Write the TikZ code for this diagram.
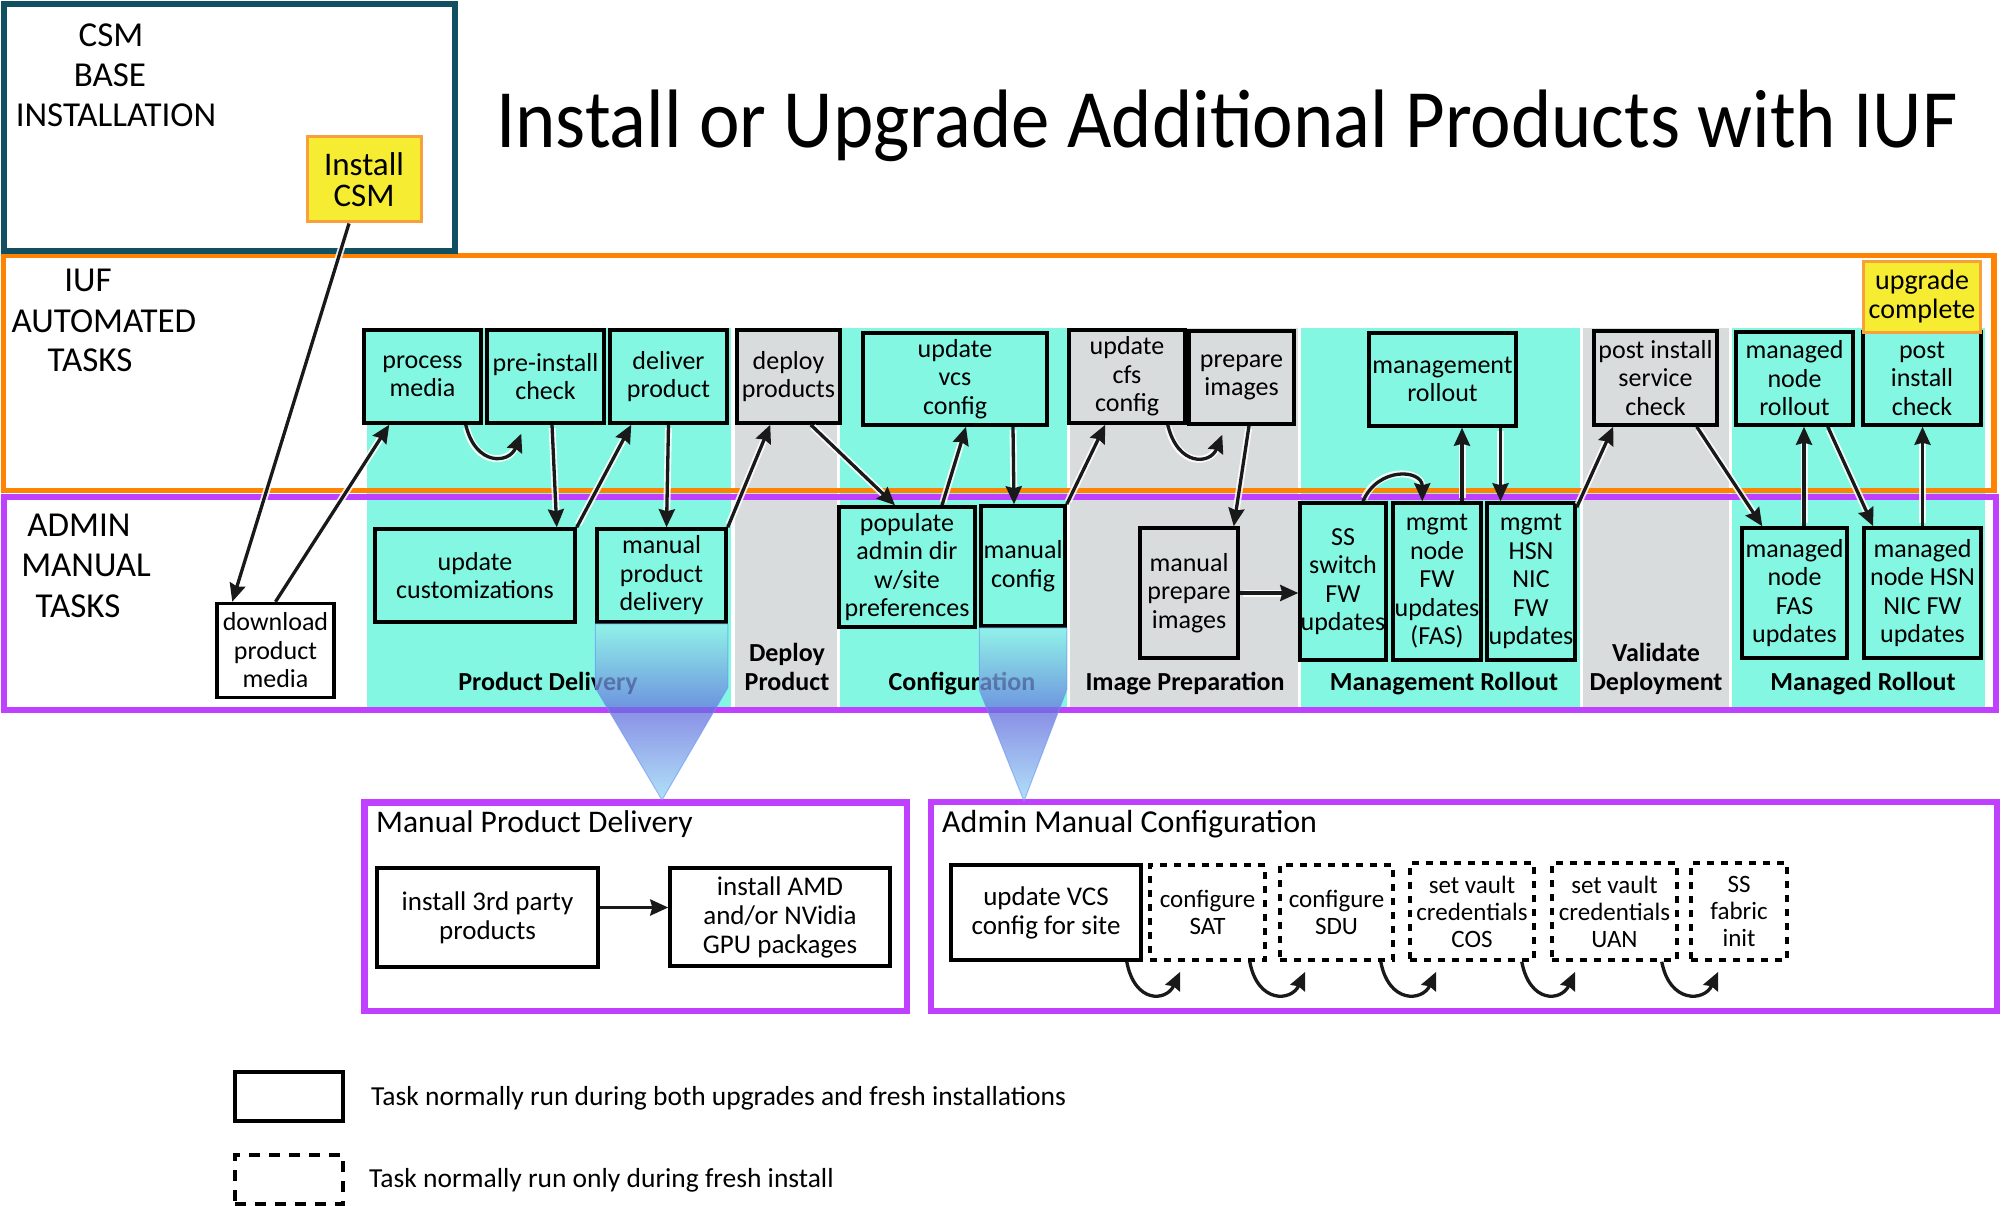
\documentclass[tikz,border=0pt]{standalone}
\usepackage{fontspec}
\setmainfont{Carlito}
\usetikzlibrary{arrows.meta,calc}
\definecolor{cy}{RGB}{131,247,225}
\definecolor{gr}{RGB}{216,220,220}
\definecolor{org}{RGB}{255,131,0}
\definecolor{pur}{RGB}{192,64,255}
\definecolor{tealdk}{RGB}{17,80,96}
\definecolor{yel}{RGB}{246,236,50}
\definecolor{yelb}{RGB}{247,160,60}
\definecolor{fnA}{RGB}{150,240,236}
\definecolor{fnB}{RGB}{100,110,222}
\definecolor{fnC}{RGB}{150,215,245}
\tikzset{
  task/.style={draw=black, line width=3.5pt, fill=cy, inner sep=0pt, align=center, font=\fontsize{26}{28.5}\selectfont},
  gtask/.style={task, fill=gr},
  wtask/.style={task, fill=white},
  ytask/.style={task, fill=yel, draw=yelb, line width=3pt},
  btask/.style={wtask, font=\fontsize{27}{29}\selectfont},
  dtask/.style={wtask, dash pattern=on 7pt off 7pt, font=\fontsize{25}{27}\selectfont},
  framebox/.style={draw=#1, line width=6pt, inner sep=0pt},
  hdr/.style={font=\fontsize{35}{37}\selectfont, inner sep=0pt},
  collab/.style={font=\bfseries\fontsize{26}{28}\selectfont, inner sep=0pt, anchor=base},
  ttl/.style={font=\fontsize{31.5}{33}\selectfont, inner sep=0pt, anchor=base west},
  legtxt/.style={font=\fontsize{27.5}{29}\selectfont, inner sep=0pt, anchor=base west},
  arr/.style={draw=black!90, line width=3.3pt, -{Stealth[length=18pt,width=16pt,inset=2pt]},
    preaction={draw=white, line width=7pt, arrows=-, shorten >=14pt, shorten <=3pt, draw opacity=0.85}},
  funnel/.style={draw=fnC!70!blue, line width=1pt, top color=fnA, bottom color=fnC, middle color=fnB, shading=axis, fill opacity=0.75, draw opacity=0.6}
}
\begin{document}
\begin{tikzpicture}[x=1pt,y=-1pt]
\useasboundingbox (0,0) rectangle (2004,1206);
% column backgrounds
\fill[cy] (367,328) rectangle (731,707);
\fill[gr] (735,328) rectangle (837,707);
\fill[cy] (840,328) rectangle (1067,707);
\fill[gr] (1070,328) rectangle (1298,707);
\fill[cy] (1301,328) rectangle (1580,707);
\fill[gr] (1583,328) rectangle (1729,707);
\fill[cy] (1732,328) rectangle (1985,707);
% frames
\node[framebox=org, line width=5.5pt, minimum width=1990.5pt, minimum height=235pt] (iufbox) at (998.75,373) {};
\node[framebox=pur, minimum width=1992.5pt, minimum height=213pt] (adminbox) at (999.75,603) {};
\node[framebox=tealdk, minimum width=451pt, minimum height=247pt] (csmbox) at (229.5,127.5) {};
% headers
\node[hdr] (h1) at (111,35) {CSM};
\node[hdr] (h2) at (110,75) {BASE};
\node[hdr] (h3) at (116,115) {INSTALLATION};
\node[hdr] (h4) at (88,280) {IUF};
\node[hdr] (h5) at (104,321) {AUTOMATED};
\node[hdr] (h6) at (90,360) {TASKS};
\node[hdr] (h7) at (79,525) {ADMIN};
\node[hdr] (h8) at (86,565) {MANUAL};
\node[hdr] (h9) at (78,606) {TASKS};
% title
\node[inner sep=0pt, anchor=base west] (title) at (496,148) {\scalebox{1}[1.08]{\fontsize{76.8}{80}\selectfont Install or Upgrade Additional Products with IUF}};
% column labels
\node[collab] (c1) at (548,690) {Product Delivery};
\node[collab] (c2a) at (787,661) {Deploy};
\node[collab] (c2b) at (787,690) {Product};
\node[collab] (c3) at (962,690) {Configuration};
\node[collab] (c4) at (1185,690) {Image Preparation};
\node[collab] (c5) at (1444,690) {Management Rollout};
\node[collab] (c6a) at (1656,661) {Validate};
\node[collab] (c6b) at (1656,690) {Deployment};
\node[collab] (c7) at (1863,690) {Managed Rollout};
% top row tasks
\node[ytask, minimum width=114pt, minimum height=85pt, font=\fontsize{33}{31}\selectfont] (icsm) at (364,179.5) {Install\\CSM};
\node[task, minimum width=117pt, minimum height=93pt] (pm) at (422.5,376.5) {process\\media};
\node[task, minimum width=117pt, minimum height=93pt] (pic) at (545.5,376.5) {pre-install\\check};
\node[task, minimum width=117pt, minimum height=93pt] (dp) at (668.5,376.5) {deliver\\product};
\node[gtask, minimum width=103pt, minimum height=93pt] (dep) at (788.5,376.5) {deploy\\products};
\node[task, minimum width=184pt, minimum height=92pt] (vcs) at (955,379) {update\\vcs\\config};
\node[gtask, minimum width=116pt, minimum height=93pt] (cfs) at (1127,376.5) {update\\cfs\\config};
\node[gtask, minimum width=105pt, minimum height=93pt] (pi) at (1241.5,377.5) {prepare\\images};
\node[task, minimum width=147pt, minimum height=93pt] (mr) at (1442.5,379.5) {management\\rollout};
\node[gtask, minimum width=123pt, minimum height=94pt] (pisc) at (1655.5,378) {post install\\service\\check};
\node[task, minimum width=117pt, minimum height=93pt] (mnr) at (1794.5,378.5) {managed\\node\\rollout};
\node[task, minimum width=118pt, minimum height=93pt] (pic2) at (1922,378.5) {post\\install\\check};
\node[ytask, minimum width=117pt, minimum height=70pt, font=\fontsize{28}{29}\selectfont] (uc) at (1922,297) {upgrade\\complete};
% bottom row tasks
\node[wtask, minimum width=117pt, minimum height=94pt] (dpm) at (275.5,650.5) {download\\product\\media};
\node[task, minimum width=200pt, minimum height=93pt] (upc) at (475,575.5) {update\\customizations};
\node[task, minimum width=129pt, minimum height=93pt] (mpd) at (661.5,575.5) {manual\\product\\delivery};
\node[task, minimum width=136pt, minimum height=120pt] (pad) at (907,567) {populate\\admin dir\\w/site\\preferences};
\node[task, minimum width=84pt, minimum height=120pt] (mc) at (1023,566) {manual\\config};
\node[gtask, minimum width=98pt, minimum height=130pt] (mpi) at (1189,593) {manual\\prepare\\images};
\node[task, minimum width=86pt, minimum height=157pt] (ssfw) at (1343,581.5) {SS\\switch\\FW\\updates};
\node[task, minimum width=88pt, minimum height=157pt] (mnfw) at (1437,581.5) {mgmt\\node\\FW\\updates\\(FAS)};
\node[task, minimum width=88pt, minimum height=157pt] (hsn) at (1531,581.5) {mgmt\\HSN\\NIC\\FW\\updates};
\node[task, minimum width=105pt, minimum height=130pt] (mnfas) at (1794.5,593) {managed\\node\\FAS\\updates};
\node[task, minimum width=117pt, minimum height=130pt] (mnhsn) at (1922.5,593) {managed\\node HSN\\NIC FW\\updates};
% lower frames
\node[framebox=pur, line width=6.5pt, minimum width=542.5pt, minimum height=208.5pt] (mpdbox) at (635.75,906.75) {};
\node[framebox=pur, line width=6.5pt, minimum width=1066pt, minimum height=209pt] (amcbox) at (1464,906.5) {};
\node[ttl] (t1) at (376,832) {Manual Product Delivery};
\node[ttl, font=\fontsize{32}{34}\selectfont] (t2) at (942,832) {Admin Manual Configuration};
% funnels
\path[funnel] (mpd.south west) -- ++(0,64) -- (662,800) -- ($(mpd.south east)+(0,64)$) -- (mpd.south east) -- cycle;
\path[funnel] (mc.south west) -- ++(0,62) -- (1024,801) -- ($(mc.south east)+(0,62)$) -- (mc.south east) -- cycle;
% arrows top
\draw[arr] ([xshift=-15pt]icsm.south) -- ([xshift=17pt]dpm.north west);
\draw[arr] (dpm.north) -- ([xshift=27pt]pm.south west);
\draw[arr] ([xshift=-17pt]pm.south east) .. controls +(10,42) and +(-12,30) .. ([xshift=36pt,yshift=-9pt]pic.south west);
\draw[arr] ([xshift=6.5pt]pic.south) -- ([xshift=-20pt]upc.north east);
\draw[arr] (upc.north east) -- ([xshift=23pt]dp.south west);
\draw[arr] (dp.south) -- ([xshift=5pt]mpd.north);
\draw[arr] (mpd.north east) -- ([xshift=35pt]dep.south west);
\draw[arr] ([xshift=-31pt]dep.south east) -- ([xshift=-12pt]pad.north);
\draw[arr] ([xshift=35pt]pad.north) -- ([xshift=11pt]vcs.south);
\draw[arr] ([xshift=58pt]vcs.south) -- ([xshift=-9pt]mc.north);
\draw[arr] (mc.north east) -- ([xshift=38pt]cfs.south west);
\draw[arr] ([xshift=-19pt]cfs.south east) .. controls +(10,42) and +(-12,30) .. ([xshift=35pt,yshift=-9pt]pi.south west);
\draw[arr] ([xshift=7.5pt]pi.south) -- ([xshift=-6pt]mpi.north east);
\draw[arr] (mpi.east) -- (mpi.east -| ssfw.west);
\draw[arr] ([xshift=20pt]ssfw.north) .. controls +(15,-35) and +(0,-32) .. ([xshift=31pt]mnfw.north west);
\draw[arr] ([xshift=25pt]mnfw.north) -- ([xshift=25pt]mnfw.north |- mr.south);
\draw[arr] ([xshift=58pt]mr.south) -- ([xshift=58pt]mr.south |- hsn.north);
\draw[arr] ([yshift=-6pt]hsn.north east) -- ([xshift=21pt]pisc.south west);
\draw[arr] ([xshift=-22pt]pisc.south east) -- ([xshift=22pt]mnfas.north west);
\draw[arr] ([xshift=9.5pt]mnfas.north) -- ([xshift=9.5pt]mnfas.north |- mnr.south);
\draw[arr] ([xshift=-27pt]mnr.south east) -- ([xshift=11pt]mnhsn.north west);
\draw[arr] (mnhsn.north) -- (mnhsn.north |- pic2.south);
% bottom tasks
\node[btask, minimum width=221pt, minimum height=99pt] (i3p) at (487.5,917.5) {install 3rd party\\products};
\node[btask, minimum width=220pt, minimum height=98pt] (amd) at (780,917) {install AMD\\and/or NVidia\\GPU packages};
\draw[arr] ([yshift=10pt]i3p.east) -- ([yshift=10pt]i3p.east -| amd.west);
\node[btask, minimum width=190pt, minimum height=95pt] (uvcs) at (1046,912.5) {update VCS\\config for site};
\node[dtask, minimum width=115pt, minimum height=95pt] (sat) at (1207.5,912.5) {configure\\SAT};
\node[dtask, minimum width=113pt, minimum height=95pt] (sdu) at (1336.5,912.5) {configure\\SDU};
\node[dtask, minimum width=124pt, minimum height=97pt] (cos) at (1472,911.5) {set vault\\credentials\\COS};
\node[dtask, minimum width=125pt, minimum height=97pt] (uan) at (1614.5,911.5) {set vault\\credentials\\UAN};
\node[dtask, minimum width=96pt, minimum height=97pt] (ssf) at (1739,911.5) {SS\\fabric\\init};
\draw[arr] ([xshift=-16pt]uvcs.south east) .. controls +(8,42) and +(-14,30) .. ([xshift=32pt,yshift=-10pt]sat.south west);
\draw[arr] ([xshift=-17pt]sat.south east) .. controls +(8,42) and +(-14,30) .. ([xshift=27pt,yshift=-10pt]sdu.south west);
\draw[arr] ([xshift=-14pt]sdu.south east) .. controls +(8,42) and +(-14,30) .. ([xshift=28pt,yshift=-10pt]cos.south west);
\draw[arr] ([xshift=-14pt]cos.south east) .. controls +(8,42) and +(-14,30) .. ([xshift=25pt,yshift=-10pt]uan.south west);
\draw[arr] ([xshift=-17pt]uan.south east) .. controls +(8,42) and +(-14,30) .. ([xshift=29pt,yshift=-10pt]ssf.south west);
% legend
\node[wtask, minimum width=108pt, minimum height=49pt] (legsolid) at (289,1096.5) {};
\node[wtask, dash pattern=on 11pt off 9pt, minimum width=108pt, minimum height=49pt] (legdash) at (289,1179.5) {};
\node[legtxt] (l1) at (371,1105) {Task normally run during both upgrades and fresh installations};
\node[legtxt] (l2) at (369,1187) {Task normally run only during fresh install};
\end{tikzpicture}
\end{document}
